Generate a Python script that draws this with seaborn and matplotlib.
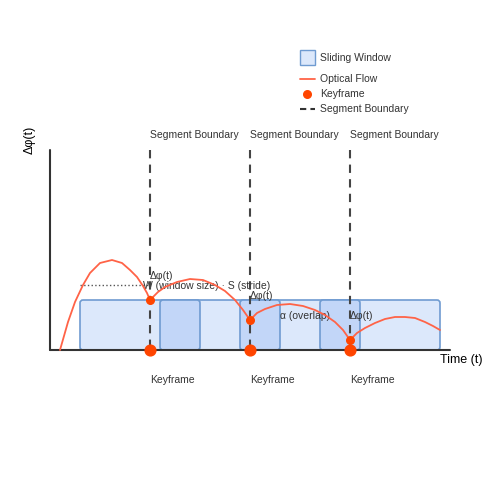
import matplotlib
matplotlib.use("Agg")
import matplotlib.pyplot as plt
import seaborn as sns
from matplotlib.patches import FancyBboxPatch, Rectangle

sns.set_style("white")
plt.rcParams['font.family'] = ['Liberation Sans', 'DejaVu Sans']

flow_x = [60, 68, 75, 83, 90, 100, 112, 122, 130, 137, 143, 147, 150,
          158, 165, 177, 190, 203, 215, 225, 235, 243, 250,
          257, 265, 277, 290, 303, 315, 325, 335, 343, 350,
          357, 365, 375, 385, 395, 405, 415, 425, 433, 440]
flow_y = [350, 322, 302, 285, 273, 263, 260, 263, 270, 277, 286, 293, 300,
          292, 287, 282, 279, 280, 285, 291, 300, 310, 320,
          313, 309, 305, 304, 306, 310, 315, 322, 330, 340,
          333, 328, 323, 319, 317, 317, 318, 322, 326, 330]
boundaries = [150, 250, 350]
keyframe_flow_y = [300, 320, 340]
windows = [(160, 200), (240, 280), (320, 360)]

fig = plt.figure(figsize=(5, 5), dpi=100)
ax = fig.add_axes([0, 0, 1, 1])
ax.set_xlim(0, 500); ax.set_ylim(500, 0); ax.axis('off')

edge = '#6f9bd1'
ax.add_patch(FancyBboxPatch((80, 300), 360, 50, boxstyle="round,pad=0,rounding_size=3",
                            fc='#dce8fb', ec=edge, lw=1.2, zorder=1))
for a, b in windows:
    ax.add_patch(FancyBboxPatch((a, 300), b - a, 50, boxstyle="round,pad=0,rounding_size=3",
                                fc='#c2d6f8', ec=edge, lw=1.2, zorder=2))

ax.plot([50, 50], [150, 350], color='#333', lw=1.5, zorder=3)
ax.plot([50, 450], [350, 350], color='#333', lw=1.5, zorder=3)
for bx in boundaries:
    ax.plot([bx, bx], [150, 350], color='#444', lw=1.5, ls=(0, (4, 3)), zorder=4)
    ax.text(bx, 140, 'Segment Boundary', fontsize=7.5, color='#333', va='bottom')
    ax.text(bx, 380, 'Keyframe', fontsize=7.5, color='#333', va='center')
ax.plot([80, 150], [285, 285], color='#555', lw=1, ls=':', zorder=3)

sns.lineplot(x=flow_x, y=flow_y, ax=ax, color='#ff6347', lw=1.3, sort=False, zorder=5)
ax.scatter(boundaries, keyframe_flow_y, s=30, color='#ff4500', zorder=6)
ax.scatter(boundaries, [350] * 3, s=60, color='#ff4500', zorder=6)

ax.text(150, 276, 'Δφ(t)', fontsize=7.5, color='#333', va='center')
ax.text(143, 286, 'W (window size) · S (stride)', fontsize=7.5, color='#333', va='center')
ax.text(250, 296, 'Δφ(t)', fontsize=7.5, color='#333', va='center')
ax.text(280, 316, 'α (overlap)', fontsize=7.5, color='#333', va='center')
ax.text(350, 316, 'Δφ(t)', fontsize=7.5, color='#333', va='center')
ax.text(440, 360, 'Time (t)', fontsize=9, color='#000', va='center')
ax.text(30, 140, 'Δφ(t)', fontsize=9, color='#000', rotation=90, ha='center', va='center')

ax.add_patch(Rectangle((300, 50), 15, 15, fc='#dce8fb', ec=edge, lw=1))
ax.text(320, 58, 'Sliding Window', fontsize=7.5, color='#333', va='center')
ax.plot([300, 315], [79, 79], color='#ff6347', lw=1.3)
ax.text(320, 79, 'Optical Flow', fontsize=7.5, color='#333', va='center')
ax.scatter([307], [94], s=30, color='#ff4500')
ax.text(320, 94, 'Keyframe', fontsize=7.5, color='#333', va='center')
ax.plot([300, 315], [109, 109], color='#333', lw=1.5, ls=(0, (3, 2)))
ax.text(320, 109, 'Segment Boundary', fontsize=7.5, color='#333', va='center')

fig.savefig('out.png', dpi=100)
